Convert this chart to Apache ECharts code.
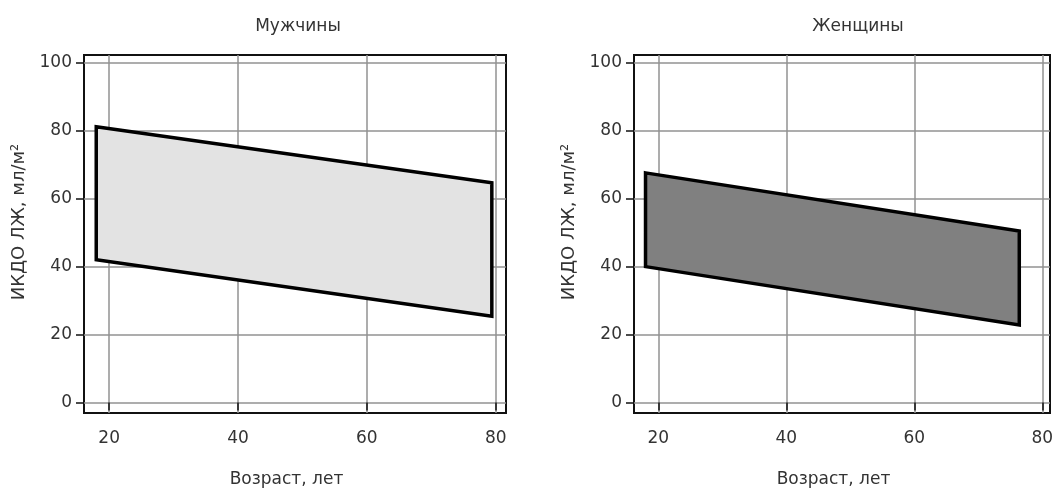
<!DOCTYPE html>
<html><head><meta charset="utf-8">
<script src="https://cdn.jsdelivr.net/npm/echarts@6/dist/echarts.min.js"></script>
<style>html,body{margin:0;padding:0;background:#fff}#c{width:1057px;height:493px}</style>
</head><body><div id="c"></div>
<script>
const titles = ['Мужчины', 'Женщины'];
const xName = 'Возраст, лет';
const yName = 'ИКДО ЛЖ, мл/м²';
const xTicks = [20, 40, 60, 80];
const yTicks = [0, 20, 40, 60, 80, 100];
// Men: band edges at youngest and oldest age
const menAge = [18, 79.4];
const menUpper = [81.2, 64.7];
const menLower = [42, 25.4];
// Women
const womenAge = [18, 76.4];
const womenUpper = [67.6, 50.5];
const womenLower = [40, 22.8];

const FONT = 'DejaVu Sans';
const TXT = '#333';

function bandSeries(idx, ages, upper, lower, fill) {
  return {
    type: 'custom', xAxisIndex: idx, yAxisIndex: idx,
    data: [[ages[0], upper[0]], [ages[1], upper[1]], [ages[1], lower[1]], [ages[0], lower[0]]],
    renderItem: function (params, api) {
      if (params.dataIndex !== 0) return null;
      const pts = [
        api.coord([ages[0], upper[0]]),
        api.coord([ages[1], upper[1]]),
        api.coord([ages[1], lower[1]]),
        api.coord([ages[0], lower[0]])
      ];
      return {
        type: 'polygon', shape: { points: pts },
        style: { fill: fill, stroke: '#000', lineWidth: 3.5, lineJoin: 'miter' }
      };
    },
    silent: true, animation: false
  };
}

function xAxis(idx, min, max) {
  return {
    type: 'value', gridIndex: idx, min: min, max: max,
    name: xName, nameLocation: 'middle', nameGap: 58,
    nameTextStyle: { fontFamily: FONT, fontSize: 17, color: TXT, padding: [0, 17, 0, 0] },
    axisLine: { show: false },
    axisTick: { show: true, customValues: xTicks, length: 8, lineStyle: { color: '#111', width: 1.5 } },
    axisLabel: { customValues: xTicks, fontFamily: FONT, fontSize: 17, color: TXT, margin: 17 },
    splitLine: { show: true, lineStyle: { color: '#929292', width: 1.5 } }
  };
}
function yAxis(idx, min, max) {
  return {
    type: 'value', gridIndex: idx, min: min, max: max,
    name: yName, nameLocation: 'middle', nameGap: 56, nameRotate: 90,
    nameTextStyle: { fontFamily: FONT, fontSize: 18, color: TXT, padding: [0, 0, 0, 24] },
    axisLine: { show: false },
    axisTick: { show: true, customValues: yTicks, length: 8, lineStyle: { color: '#111', width: 1.5 } },
    axisLabel: { customValues: yTicks, fontFamily: FONT, fontSize: 17, color: TXT, margin: 12 },
    splitLine: { show: true, lineStyle: { color: '#929292', width: 1.5 } }
  };
}

const chart = echarts.init(document.getElementById('c'), null, { renderer: 'canvas' });
chart.setOption({
  animation: false,
  backgroundColor: '#fff',
  title: [
    { text: titles[0], left: 293, top: 13, textAlign: 'center', textStyle: { fontFamily: FONT, fontSize: 17, fontWeight: 'normal', color: TXT } },
    { text: titles[1], left: 853, top: 13, textAlign: 'center', textStyle: { fontFamily: FONT, fontSize: 17, fontWeight: 'normal', color: TXT } }
  ],
  grid: [
    { left: 84, top: 55, width: 422, height: 358, show: true, borderColor: '#111', borderWidth: 2, backgroundColor: 'transparent' },
    { left: 634, top: 55, width: 416, height: 358, show: true, borderColor: '#111', borderWidth: 2, backgroundColor: 'transparent' }
  ],
  xAxis: [xAxis(0, 16.1, 81.6), xAxis(1, 16.2, 81.2)],
  yAxis: [yAxis(0, -3.1, 102.3), yAxis(1, -3.1, 102.3)],
  series: [
    bandSeries(0, menAge, menUpper, menLower, '#e3e3e3'),
    bandSeries(1, womenAge, womenUpper, womenLower, '#808080')
  ]
});
</script></body></html>
